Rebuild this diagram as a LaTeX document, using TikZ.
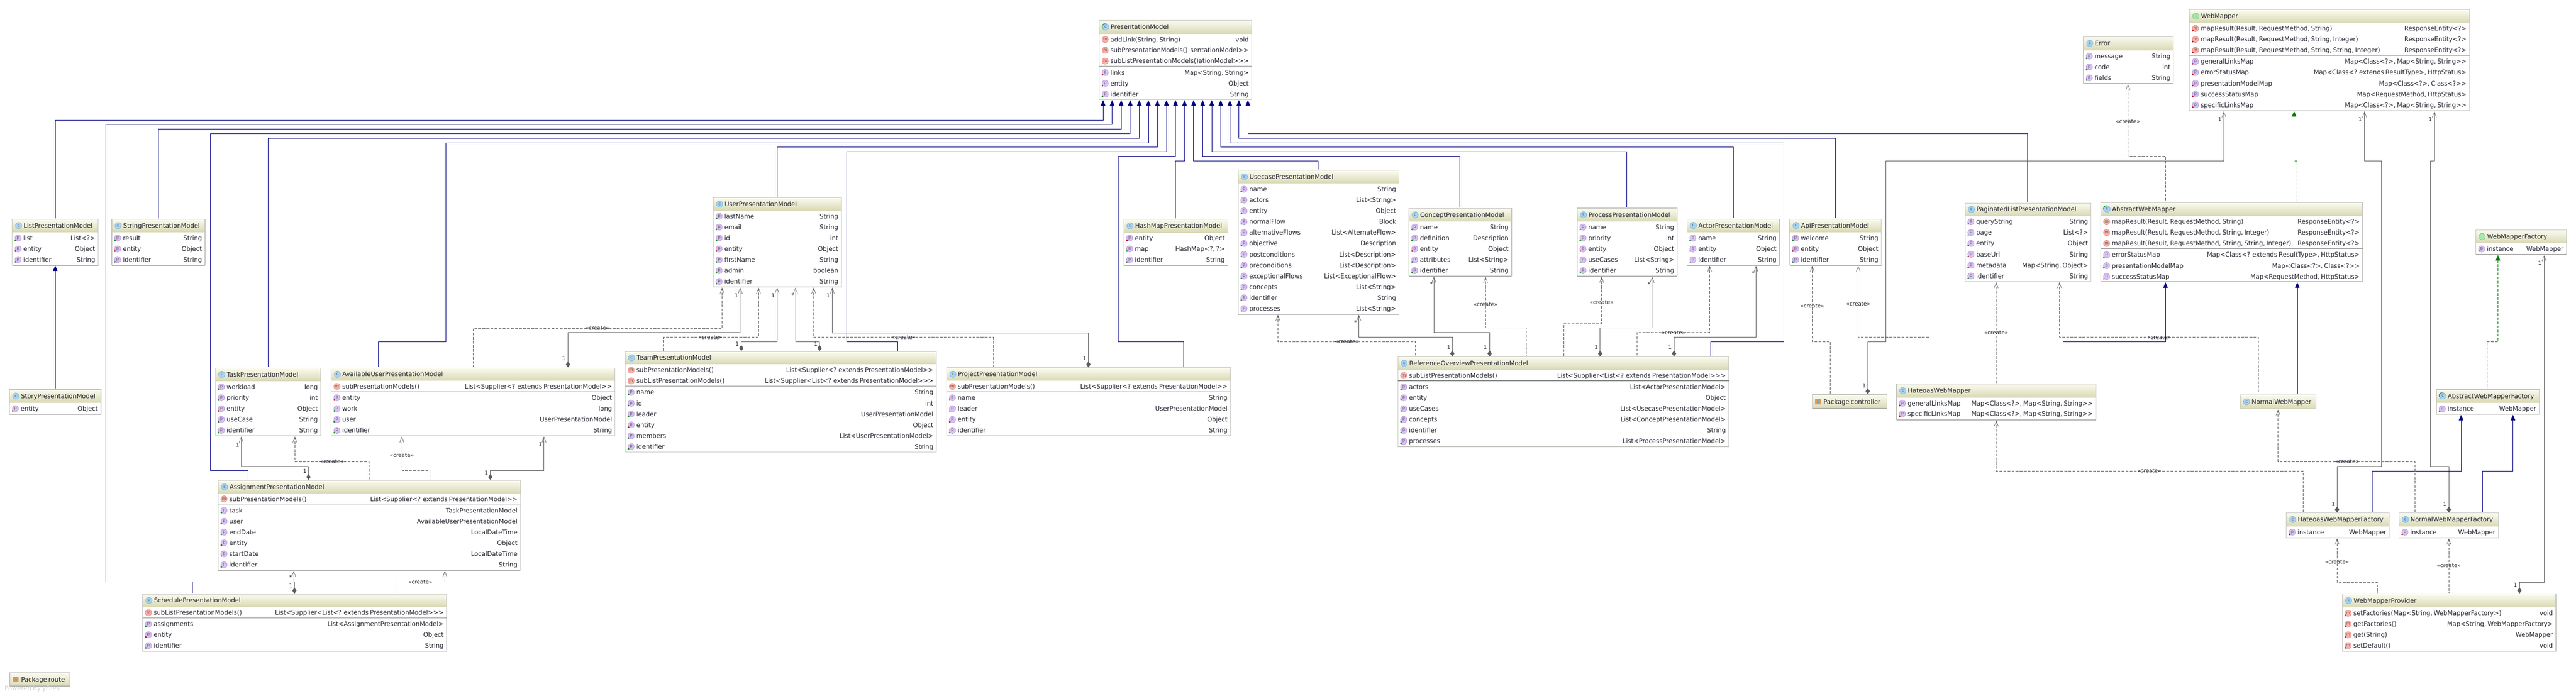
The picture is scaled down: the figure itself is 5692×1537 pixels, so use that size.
\documentclass[tikz,border=0pt]{standalone}
\usepackage{fontspec}
\usetikzlibrary{arrows.meta}
\newfontfamily\umlfont[WordSpace=0.7]{DejaVu Sans}
\definecolor{tbtop}{HTML}{FBFBF0}
\definecolor{tbbot}{HTML}{D9D9B5}
\definecolor{uedge}{HTML}{C8C8C4}
\definecolor{ushad}{HTML}{A4A4A4}
\definecolor{usep}{HTML}{8C8C8C}
\definecolor{conngray}{HTML}{5C5C5C}
\definecolor{navyline}{HTML}{000080}
\definecolor{greenline}{HTML}{007A00}
\definecolor{utext}{HTML}{24242F}
\definecolor{icbf}{HTML}{A6D3F2}\definecolor{icbd}{HTML}{6FB0E0}
\definecolor{icpf}{HTML}{D8C0F0}\definecolor{icpd}{HTML}{B090E0}
\definecolor{icmf}{HTML}{F7B0A8}\definecolor{icmd}{HTML}{E08078}
\definecolor{icgf}{HTML}{A8E8B0}\definecolor{icgd}{HTML}{68C070}
\newcounter{rowc}
\newcounter{labc}
\tikzset{
 x=1pt,y=-1pt,
 uborder/.style={draw=uedge,line width=1.4pt,fill=none,inner sep=0,outer sep=0},
 ushadow/.style={fill=ushad},
 usepar/.style={fill=usep},
 utitle/.style={anchor=base west,inner sep=0,text=utext,font=\umlfont\fontsize{13.8}{16}\selectfont},
 uleft/.style={anchor=base west,inner sep=0,text=utext,font=\umlfont\fontsize{13.8}{16}\selectfont},
 uright/.style={anchor=base east,inner sep=0,text=utext,font=\umlfont\fontsize{13.8}{16}\selectfont},
 iconbase/.style={circle,inner sep=0,minimum size=14pt,line width=.7pt,text=utext!75,font=\umlfont\fontsize{9}{9}\selectfont},
 iconc/.style={iconbase,draw=icbd,fill=icbf},
 icona/.style={iconc},
 iconI/.style={iconbase,draw=icgd,fill=icgf},
 iconp/.style={iconbase,draw=icpd,fill=icpf},
 iconm/.style={iconbase,draw=icmd,fill=icmf},
 dotg/.style={fill=green!55!black},
 dotr/.style={fill=red!75!black},
 dotn/.style={fill=none},
 clabel/.style={inner sep=0,text=utext,font=\umlfont\fontsize{12}{14}\selectfont},
 assocline/.style={draw=conngray,line width=.9pt,shorten <=1.5pt,shorten >=1pt,
   {Straight Barb[length=12pt,width=9pt,line width=.8pt]}-{Diamond[length=13pt,width=9.5pt]}},
 createline/.style={draw=conngray,line width=.9pt,dash pattern=on 6pt off 3pt,shorten <=1.5pt,shorten >=2pt,
   {Straight Barb[length=12pt,width=9pt,line width=.8pt]}-},
 inheritline/.style={draw=navyline,line width=.9pt,shorten <=1pt,shorten >=2pt,
   {Triangle[length=12pt,width=10pt]}-},
 realizeline/.style={draw=greenline,line width=.9pt,dash pattern=on 6pt off 3pt,shorten <=1pt,shorten >=2pt,
   {Triangle[length=12pt,width=10pt]}-},
}
\newcommand{\ubox}[8]{%
 \xdef\curid{#1}\xdef\curL{#2}\xdef\curR{#4}%
 \fill[white] (#2,#3) rectangle (#4,#5);
 \shade[top color=tbtop,bottom color=tbbot] (#2,#3) rectangle (#4,#6);
 \fill[ushadow] (#2,#5-1) rectangle (#4,#5+1);
 \pgfmathsetmacro\bw{#4-#2}\pgfmathsetmacro\bh{#5-#3}%
 \node[uborder,minimum width=\bw pt,minimum height=\bh pt,anchor=north west] (#1) at (#2,#3) {};
 \pgfmathsetmacro\ty{(#3+#6)/2}%
 \if#7a\fill[green!60!black] (#2+12.5,\ty-1) circle (7pt);\fi
 \node[icon#7] (#1-i) at (#2+14,\ty) {\if#7ac\else\if#7Ii\else #7\fi\fi};
 \node[utitle] (#1-t) at (#2+25,\ty+5) {#8};
}
\newcommand{\urow}[5]{%
 \stepcounter{rowc}%
 \node[icon#1] (\curid-i\therowc) at (\curL+13,#2) {#1};
 \path[#3] (\curL+7,#2+5) circle (2pt);
 \node[uleft] (\curid-l\therowc) at (\curL+24.5,#2+5) {#4};
 \node[uright] (\curid-r\therowc) at (\curR-6.5,#2+5) {#5};
}
\newcommand{\usepline}[1]{\fill[usepar] (\curL,#1-.7) rectangle (\curR,#1+.7);}
\newcommand{\upkg}[6]{%
 \shade[top color=tbtop,bottom color=tbbot] (#2,#3) rectangle (#4,#5);
 \fill[ushadow] (#2,#5-1) rectangle (#4,#5+1);
 \pgfmathsetmacro\bw{#4-#2}\pgfmathsetmacro\bh{#5-#3}%
 \node[uborder,minimum width=\bw pt,minimum height=\bh pt,anchor=north west] (#1) at (#2,#3) {};
 \pgfmathsetmacro\ty{(#3+#5)/2}%
 \fill[brown!70!orange!80] (#2+7,\ty-6) rectangle (#2+20,\ty+6);
 \fill[cyan!60!blue!60] (#2+11.5,\ty-1.5) rectangle (#2+15.5,\ty+2.5);
 \node[utitle] (#1-t) at (#2+25,\ty+5) {#6};
}
\newcommand{\lab}[3]{\stepcounter{labc}\node[clabel] (lab\thelabc) at (#1,#2) {#3};}
\begin{document}
\begin{tikzpicture}
\useasboundingbox (0,0) rectangle (5692,1537);
\fill[white] (0,0) rectangle (5692,1537);

% ---- presentation models
\ubox{PM}{2429}{45.3}{2766}{220.3}{74}{a}{PresentationModel}
\urow{m}{87.3}{dotn}{addLink(String, String)}{void}
\urow{m}{111}{dotn}{subPresentationModels()}{sentationModel>>}
\urow{m}{135}{dotn}{subListPresentationModels()}{ationModel>>>}
\usepline{146.3}
\urow{p}{160.3}{dotr}{links}{Map<String, String>}
\urow{p}{184.3}{dotr}{entity}{Object}
\urow{p}{208}{dotg}{identifier}{String}

\ubox{List}{27}{484.5}{217}{586}{512.6}{c}{ListPresentationModel}
\urow{p}{526}{dotg}{list}{List<?>}
\urow{p}{550}{dotr}{entity}{Object}
\urow{p}{573.6}{dotg}{identifier}{String}

\ubox{Str}{247}{484.5}{453}{586}{512.6}{c}{StringPresentationModel}
\urow{p}{526}{dotg}{result}{String}
\urow{p}{550}{dotr}{entity}{Object}
\urow{p}{573.6}{dotg}{identifier}{String}

\ubox{Story}{21}{860.6}{223}{915}{890}{c}{StoryPresentationModel}
\urow{p}{903}{dotr}{entity}{Object}

\ubox{Task}{476}{813}{709}{963}{841.6}{c}{TaskPresentationModel}
\urow{p}{855}{dotg}{workload}{long}
\urow{p}{879}{dotg}{priority}{int}
\urow{p}{903}{dotr}{entity}{Object}
\urow{p}{927}{dotg}{useCase}{String}
\urow{p}{951}{dotg}{identifier}{String}

\ubox{Avail}{731.5}{813}{1359}{963}{841}{c}{AvailableUserPresentationModel}
\urow{m}{854}{dotn}{subPresentationModels()}{List<Supplier<? extends PresentationModel>>}
\usepline{865.5}
\urow{p}{879}{dotr}{entity}{Object}
\urow{p}{903}{dotg}{work}{long}
\urow{p}{927}{dotg}{user}{UserPresentationModel}
\urow{p}{951}{dotg}{identifier}{String}

\ubox{Assign}{482}{1061.5}{1150}{1260}{1090}{c}{AssignmentPresentationModel}
\urow{m}{1102.7}{dotn}{subPresentationModels()}{List<Supplier<? extends PresentationModel>>}
\usepline{1114}
\urow{p}{1128}{dotg}{task}{TaskPresentationModel}
\urow{p}{1152}{dotg}{user}{AvailableUserPresentationModel}
\urow{p}{1176}{dotg}{endDate}{LocalDateTime}
\urow{p}{1199.7}{dotr}{entity}{Object}
\urow{p}{1223.8}{dotg}{startDate}{LocalDateTime}
\urow{p}{1248}{dotg}{identifier}{String}

\ubox{Sched}{315}{1312.7}{987}{1439.4}{1341}{c}{SchedulePresentationModel}
\urow{m}{1354}{dotn}{subListPresentationModels()}{List<Supplier<List<? extends PresentationModel>>>}
\usepline{1365.8}
\urow{p}{1379}{dotg}{assignments}{List<AssignmentPresentationModel>}
\urow{p}{1402.8}{dotr}{entity}{Object}
\urow{p}{1426.8}{dotg}{identifier}{String}

\upkg{PkgRoute}{21.5}{1486.5}{154}{1516.5}{Package route}
\node[anchor=base west,inner sep=0,text=black!18,font=\umlfont\fontsize{14}{16}\selectfont] (yfiles) at (10,1526) {Powered by yFiles};

\ubox{User}{1576}{436.5}{1859}{634}{465}{c}{UserPresentationModel}
\urow{p}{478}{dotg}{lastName}{String}
\urow{p}{502}{dotg}{email}{String}
\urow{p}{526}{dotg}{id}{int}
\urow{p}{550}{dotr}{entity}{Object}
\urow{p}{574}{dotg}{firstName}{String}
\urow{p}{598}{dotg}{admin}{boolean}
\urow{p}{622}{dotg}{identifier}{String}

\ubox{Team}{1381.6}{776.7}{2069}{999}{804.6}{c}{TeamPresentationModel}
\urow{m}{818}{dotn}{subPresentationModels()}{List<Supplier<? extends PresentationModel>>}
\urow{m}{841.7}{dotn}{subListPresentationModels()}{List<Supplier<List<? extends PresentationModel>>>}
\usepline{853.6}
\urow{p}{867}{dotg}{name}{String}
\urow{p}{891}{dotg}{id}{int}
\urow{p}{915}{dotg}{leader}{UserPresentationModel}
\urow{p}{939}{dotr}{entity}{Object}
\urow{p}{963}{dotg}{members}{List<UserPresentationModel>}
\urow{p}{987}{dotg}{identifier}{String}

\ubox{Hash}{2483}{484.4}{2713}{586}{513.5}{c}{HashMapPresentationModel}
\urow{p}{526}{dotr}{entity}{Object}
\urow{p}{550}{dotg}{map}{HashMap<?, ?>}
\urow{p}{574}{dotg}{identifier}{String}

\ubox{Usecase}{2735.7}{376.4}{3091.5}{694}{405}{c}{UsecasePresentationModel}
\urow{p}{418}{dotg}{name}{String}
\urow{p}{442}{dotg}{actors}{List<String>}
\urow{p}{466}{dotr}{entity}{Object}
\urow{p}{490}{dotg}{normalFlow}{Block}
\urow{p}{514}{dotg}{alternativeFlows}{List<AlternateFlow>}
\urow{p}{538}{dotg}{objective}{Description}
\urow{p}{562}{dotg}{postconditions}{List<Description>}
\urow{p}{586}{dotg}{preconditions}{List<Description>}
\urow{p}{610}{dotg}{exceptionalFlows}{List<ExceptionalFlow>}
\urow{p}{634}{dotg}{concepts}{List<String>}
\urow{p}{658}{dotg}{identifier}{String}
\urow{p}{682}{dotg}{processes}{List<String>}

\ubox{Concept}{3113}{460.6}{3340}{610}{489}{c}{ConceptPresentationModel}
\urow{p}{502}{dotg}{name}{String}
\urow{p}{526}{dotg}{definition}{Description}
\urow{p}{550}{dotr}{entity}{Object}
\urow{p}{574}{dotg}{attributes}{List<String>}
\urow{p}{598}{dotg}{identifier}{String}

\ubox{Project}{2091.5}{812.7}{2719}{963}{841}{c}{ProjectPresentationModel}
\urow{m}{854}{dotn}{subPresentationModels()}{List<Supplier<? extends PresentationModel>>}
\usepline{865.6}
\urow{p}{879}{dotg}{name}{String}
\urow{p}{903}{dotg}{leader}{UserPresentationModel}
\urow{p}{927}{dotr}{entity}{Object}
\urow{p}{951}{dotg}{identifier}{String}

\ubox{Refer}{3088.7}{788.7}{3820}{987}{816.7}{c}{ReferenceOverviewPresentationModel}
\urow{m}{830}{dotn}{subListPresentationModels()}{List<Supplier<List<? extends PresentationModel>>>}
\usepline{841.3}
\urow{p}{855}{dotg}{actors}{List<ActorPresentationModel>}
\urow{p}{879}{dotr}{entity}{Object}
\urow{p}{903}{dotg}{useCases}{List<UsecasePresentationModel>}
\urow{p}{927}{dotg}{concepts}{List<ConceptPresentationModel>}
\urow{p}{951}{dotg}{identifier}{String}
\urow{p}{975}{dotg}{processes}{List<ProcessPresentationModel>}

\ubox{Process}{3484.8}{460}{3706}{610}{489}{c}{ProcessPresentationModel}
\urow{p}{502}{dotg}{name}{String}
\urow{p}{526}{dotg}{priority}{int}
\urow{p}{550}{dotr}{entity}{Object}
\urow{p}{574}{dotg}{useCases}{List<String>}
\urow{p}{598}{dotg}{identifier}{String}

\ubox{Actor}{3727.7}{484}{3932}{586}{512.5}{c}{ActorPresentationModel}
\urow{p}{526}{dotg}{name}{String}
\urow{p}{550}{dotr}{entity}{Object}
\urow{p}{574}{dotg}{identifier}{String}

\ubox{Api}{3954.5}{484}{4157}{586}{512.5}{c}{ApiPresentationModel}
\urow{p}{526}{dotg}{welcome}{String}
\urow{p}{550}{dotr}{entity}{Object}
\urow{p}{574}{dotg}{identifier}{String}

\ubox{Pagin}{4342}{448.7}{4620.5}{622}{476.8}{c}{PaginatedListPresentationModel}
\urow{p}{490}{dotr}{queryString}{String}
\urow{p}{514}{dotg}{page}{List<?>}
\urow{p}{538}{dotr}{entity}{Object}
\urow{p}{562}{dotr}{baseUrl}{String}
\urow{p}{586}{dotg}{metadata}{Map<String, Object>}
\urow{p}{610}{dotg}{identifier}{String}

% ---- web mappers
\ubox{Abs}{4641.8}{447.8}{5220.5}{623}{476}{a}{AbstractWebMapper}
\urow{m}{490}{dotn}{mapResult(Result, RequestMethod, String)}{ResponseEntity<?>}
\urow{m}{514}{dotn}{mapResult(Result, RequestMethod, String, Integer)}{ResponseEntity<?>}
\urow{m}{538}{dotn}{mapResult(Result, RequestMethod, String, String, Integer)}{ResponseEntity<?>}
\usepline{548.7}
\urow{p}{563}{dotr}{errorStatusMap}{Map<Class<? extends ResultType>, HttpStatus>}
\urow{p}{587}{dotr}{presentationModelMap}{Map<Class<?>, Class<?>>}
\urow{p}{611}{dotr}{successStatusMap}{Map<RequestMethod, HttpStatus>}

\ubox{Err}{4603.5}{81}{4802.6}{184}{110.7}{c}{Error}
\urow{p}{124}{dotg}{message}{String}
\urow{p}{148}{dotg}{code}{int}
\urow{p}{172}{dotg}{fields}{String}

\ubox{WM}{4838}{21.4}{5456.5}{244.6}{50}{I}{WebMapper}
\urow{m}{63}{dotr}{mapResult(Result, RequestMethod, String)}{ResponseEntity<?>}
\urow{m}{87}{dotr}{mapResult(Result, RequestMethod, String, Integer)}{ResponseEntity<?>}
\urow{m}{111}{dotr}{mapResult(Result, RequestMethod, String, String, Integer)}{ResponseEntity<?>}
\usepline{122}
\urow{p}{136}{dotr}{generalLinksMap}{Map<Class<?>, Map<String, String>>}
\urow{p}{160}{dotr}{errorStatusMap}{Map<Class<? extends ResultType>, HttpStatus>}
\urow{p}{184}{dotr}{presentationModelMap}{Map<Class<?>, Class<?>>}
\urow{p}{208}{dotr}{successStatusMap}{Map<RequestMethod, HttpStatus>}
\urow{p}{232}{dotr}{specificLinksMap}{Map<Class<?>, Map<String, String>>}

\ubox{WMF}{5470.5}{508.5}{5671}{562.5}{537}{I}{WebMapperFactory}
\urow{p}{550}{dotr}{instance}{WebMapper}

\upkg{PkgCtrl}{4004}{872}{4169}{903}{Package controller}

\ubox{Hateoas}{4190.5}{848.5}{4631}{927.4}{877.8}{c}{HateoasWebMapper}
\urow{p}{891}{dotr}{generalLinksMap}{Map<Class<?>, Map<String, String>>}
\urow{p}{914.6}{dotr}{specificLinksMap}{Map<Class<?>, Map<String, String>>}

\ubox{Normal}{4950}{872.4}{5118}{903.4}{903.4}{c}{NormalWebMapper}

\ubox{AbsF}{5383.4}{860.7}{5610.9}{915.7}{889.5}{a}{AbstractWebMapperFactory}
\urow{p}{903.4}{dotr}{instance}{WebMapper}

\ubox{HF}{5052}{1133.5}{5279.4}{1188.5}{1162.4}{c}{HateoasWebMapperFactory}
\urow{p}{1176}{dotr}{instance}{WebMapper}

\ubox{NF}{5301}{1133.5}{5520.6}{1188.5}{1162.4}{c}{NormalWebMapperFactory}
\urow{p}{1176}{dotr}{instance}{WebMapper}

\ubox{WMP}{5175.4}{1312.4}{5647.4}{1439.5}{1341.8}{c}{WebMapperProvider}
\urow{m}{1355}{dotg}{setFactories(Map<String, WebMapperFactory>)}{void}
\urow{m}{1379}{dotg}{getFactories()}{Map<String, WebMapperFactory>}
\urow{m}{1403}{dotg}{get(String)}{WebMapper}
\urow{m}{1426.6}{dotg}{setDefault()}{void}

% ---- inheritance into PresentationModel
\draw[inheritline] (PM.south -| 2437.4,0) |- (122,265.3) -- (List.north -| 122,0);
\draw[inheritline] (PM.south -| 2457.4,0) |- (234,275.3) -- (234,1286) -- (425,1286) -- (Sched.north -| 425,0);
\draw[inheritline] (PM.south -| 2477.4,0) |- (349.5,285.3) -- (Str.north -| 349.5,0);
\draw[inheritline] (PM.south -| 2497.4,0) |- (464.6,295.3) -- (464.6,1040) -- (547.7,1040) -- (Assign.north -| 547.7,0);
\draw[inheritline] (PM.south -| 2517.4,0) |- (592,305.3) -- (Task.north -| 592,0);
\draw[inheritline] (PM.south -| 2537.4,0) |- (985.7,315.3) -- (985.7,755) -- (835.5,755) -- (Avail.north -| 835.5,0);
\draw[inheritline] (PM.south -| 2557.4,0) |- (1717.6,325.3) -- (User.north -| 1717.6,0);
\draw[inheritline] (PM.south -| 2577.4,0) |- (1870.6,335.3) -- (1870.6,755) -- (1983.5,755) -- (Team.north -| 1983.5,0);
\draw[inheritline] (PM.south -| 2597.4,0) |- (2471,345.3) -- (2471,755) -- (2615.5,755) -- (Project.north -| 2615.5,0);
\draw[inheritline] (PM.south -| 2617.4,0) |- (2597,355.3) -- (Hash.north -| 2597,0);
\draw[inheritline] (PM.south -| 2637.4,0) |- (2912,355.3) -- (Usecase.north -| 2912,0);
\draw[inheritline] (PM.south -| 2657.4,0) |- (3225,345.3) -- (Concept.north -| 3225,0);
\draw[inheritline] (PM.south -| 2677.4,0) |- (3594,335.3) -- (Process.north -| 3594,0);
\draw[inheritline] (PM.south -| 2697.4,0) |- (3829.5,325.3) -- (Actor.north -| 3829.5,0);
\draw[inheritline] (PM.south -| 2717.4,0) |- (3942,315.3) -- (3942,755) -- (3780,755) -- (Refer.north -| 3780,0);
\draw[inheritline] (PM.south -| 2737.4,0) |- (4055,305.3) -- (Api.north -| 4055,0);
\draw[inheritline] (PM.south -| 2757.4,0) |- (4480,295.3) -- (Pagin.north -| 4480,0);
\draw[inheritline] (List.south -| 122,0) -- (Story.north -| 122,0);

% ---- Task / Available / Assignment / Schedule
\draw[assocline] (Task.south -| 533,0) |- (681.6,1030.5) -- (Assign.north -| 681.6,0);
\lab{525}{983}{1} \lab{673.6}{1041}{1}
\draw[createline] (Task.south -| 651.5,0) |- (815.5,1020) -- (Assign.north -| 815.5,0);
\lab{733.4}{1020}{«create»}
\draw[createline] (Avail.south -| 888,0) |- (949.4,1040) -- (Assign.north -| 949.4,0);
\lab{888}{1006.7}{«create»}
\draw[assocline] (Avail.south -| 1202,0) |- (1083.4,1040) -- (Assign.north -| 1083.4,0);
\lab{1194}{982.6}{1} \lab{1074.6}{1045}{1}
\draw[assocline] (Assign.south -| 649,0) |- (650.5,1286) -- (Sched.north -| 650.5,0);
\lab{641.7}{1276}{*} \lab{642.5}{1293.6}{1}
\draw[createline] (Assign.south -| 983,0) |- (875,1286) -- (Sched.north -| 875,0);
\lab{928.7}{1286}{«create»}

% ---- User
\draw[createline] (User.south -| 1595.6,0) |- (1045.6,725.4) -- (Avail.north -| 1045.6,0);
\lab{1320}{725.4}{«create»}
\draw[assocline] (User.south -| 1635.6,0) |- (1255,735) -- (Avail.north -| 1255,0);
\lab{1627}{653.5}{1} \lab{1246}{791.6}{1}
\draw[createline] (User.south -| 1676,0) |- (1466.5,745) -- (Team.north -| 1466.5,0);
\lab{1570}{745}{«create»}
\draw[assocline] (User.south -| 1717,0) |- (1638,755) -- (Team.north -| 1638,0);
\lab{1708}{653.5}{1} \lab{1629}{760}{1}
\draw[assocline] (User.south -| 1757.6,0) |- (1811,755) -- (Team.north -| 1811,0);
\lab{1752}{652}{*} \lab{1802.5}{760}{1}
\draw[createline] (User.south -| 1798,0) |- (2195,745.3) -- (Project.north -| 2195,0);
\lab{1997}{745}{«create»}
\draw[assocline] (User.south -| 1839,0) |- (2405,735.3) -- (Project.north -| 2405,0);
\lab{1830}{653.5}{1} \lab{2396.6}{791.4}{1}

% ---- Reference overview
\draw[createline] (Usecase.south -| 2823.6,0) |- (3128,755) -- (Refer.north -| 3128,0);
\lab{2976}{755}{«create»}
\draw[assocline] (Usecase.south -| 3002.4,0) |- (3209,745) -- (Refer.north -| 3209,0);
\lab{2995}{712}{*} \lab{3201}{767}{1}
\draw[assocline] (Concept.south -| 3168.4,0) |- (3291.5,735) -- (Refer.north -| 3291.5,0);
\lab{3162.8}{628}{*} \lab{3282}{767}{1}
\draw[createline] (Concept.south -| 3282.5,0) |- (3372,725) -- (Refer.north -| 3372,0);
\lab{3282.5}{672.7}{«create»}
\draw[createline] (Process.south -| 3539,0) |- (3455,715) -- (Refer.north -| 3455,0);
\lab{3539}{667.7}{«create»}
\draw[assocline] (Process.south -| 3650.5,0) |- (3535.6,725) -- (Refer.north -| 3535.6,0);
\lab{3643.8}{628}{*} \lab{3527}{767}{1}
\draw[createline] (Actor.south -| 3777.7,0) |- (3617,735) -- (Refer.north -| 3617,0);
\lab{3697.6}{735}{«create»}
\draw[assocline] (Actor.south -| 3880,0) |- (3699,745) -- (Refer.north -| 3699,0);
\lab{3874}{604}{*} \lab{3690}{767}{1}

% ---- Api / Paginated / package controller
\draw[createline] (Api.south -| 4004.3,0) |- (4044,755) -- (PkgCtrl.north -| 4044,0);
\lab{4004.3}{676}{«create»}
\draw[createline] (Api.south -| 4106,0) |- (4263,745.3) -- (Hateoas.north -| 4263,0);
\lab{4106}{671}{«create»}
\draw[createline] (Pagin.south -| 4410.7,0) -- (Hateoas.north -| 4410.7,0);
\lab{4410.7}{734.7}{«create»}
\draw[createline] (Pagin.south -| 4550.5,0) |- (4990,745) -- (Normal.north -| 4990,0);
\lab{4771}{745}{«create»}
\draw[assocline] (WM.south -| 4914,0) |- (4167.5,355.3) -- (4167.5,755) -- (4127,755) -- (PkgCtrl.north -| 4127,0);
\lab{4905}{263.4}{1} \lab{4119}{852.7}{1}

% ---- web mapper hierarchy
\draw[inheritline] (Abs.south -| 4785,0) |- (4559,755) -- (Hateoas.north -| 4559,0);
\draw[inheritline] (Abs.south -| 5076,0) -- (Normal.north -| 5076,0);
\draw[createline] (Err.south -| 4702,0) |- (4785,345.5) -- (Abs.north -| 4785,0);
\lab{4702}{268.7}{«create»}
\draw[realizeline] (WM.south -| 5069,0) |- (5075.6,355.3) -- (Abs.north -| 5075.6,0);
\draw[assocline] (WM.south -| 5224.6,0) |- (5262,355.3) -- (5262,1030.5) -- (5164,1030.5) -- (HF.north -| 5164,0);
\lab{5215}{263.4}{1} \lab{5156}{1113.8}{1}
\draw[assocline] (WM.south -| 5379,0) |- (5370,355.3) -- (5370,1030.5) -- (5411,1030.5) -- (NF.north -| 5411,0);
\lab{5370}{263.4}{1} \lab{5402}{1113.8}{1}

% ---- factories
\draw[realizeline] (WMF.south -| 5519.5,0) |- (5495.6,755) -- (AbsF.north -| 5495.6,0);
\draw[assocline] (WMF.south -| 5621.5,0) |- (5567,1286.8) -- (WMP.north -| 5567,0);
\lab{5612}{581}{1} \lab{5558}{1292.6}{1}
\draw[inheritline] (AbsF.south -| 5438,0) |- (5241.7,1040.6) -- (HF.north -| 5241.7,0);
\draw[inheritline] (AbsF.south -| 5552.6,0) |- (5485,1040.6) -- (NF.north -| 5485,0);
\draw[createline] (Hateoas.south -| 4411,0) |- (5088.6,1040.6) -- (HF.north -| 5088.6,0);
\lab{4749}{1040.6}{«create»}
\draw[createline] (Normal.south -| 5033.7,0) |- (5336.6,1020) -- (NF.north -| 5336.6,0);
\lab{5185.7}{1020}{«create»}
\draw[createline] (HF.south -| 5164,0) |- (5253,1286.8) -- (WMP.north -| 5253,0);
\lab{5164}{1242}{«create»}
\draw[createline] (NF.south -| 5411,0) -- (WMP.north -| 5411,0);
\lab{5411}{1250}{«create»}
\end{tikzpicture}
\end{document}
